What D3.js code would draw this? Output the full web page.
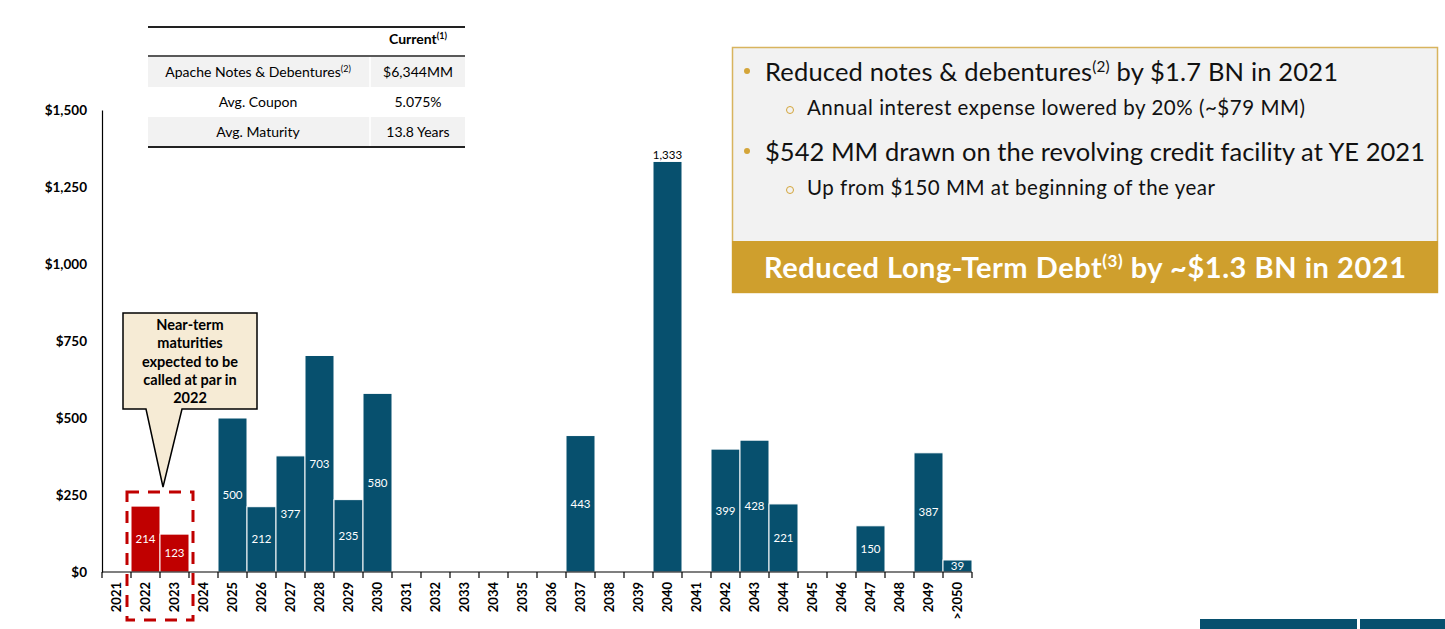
<!DOCTYPE html>
<html><head><meta charset="utf-8">
<script src="https://cdn.jsdelivr.net/npm/d3@7/dist/d3.min.js"></script>
<style>
body{margin:0;background:#fff;}
svg{display:block;font-family:Lato,"Open Sans",sans-serif;}
</style></head>
<body>
<svg id="c" width="1445" height="629"></svg>
<script>
const categories = ["2021","2022","2023","2024","2025","2026","2027","2028","2029","2030","2031","2032","2033","2034","2035","2036","2037","2038","2039","2040","2041","2042","2043","2044","2045","2046","2047","2048","2049",">2050"];
const maturities = [0,214,123,0,500,212,377,703,235,580,0,0,0,0,0,0,443,0,0,1333,0,399,428,221,0,0,150,0,387,39];
const nearTerm = ["2022","2023"];
const yTicks = [0,250,500,750,1000,1250,1500];
const tableRows = [["Apache Notes & Debentures","(2)","$6,344MM"],["Avg. Coupon","","5.075%"],["Avg. Maturity","","13.8 Years"]];
const calloutLines = ["Near-term","maturities","expected to be","called at par in","2022"];

const svg = d3.select("#c");
const teal = "#07506E", red = "#C00000";
const x = d3.scaleBand().domain(categories).range([102,972]).padding(0);
const y = d3.scaleLinear().domain([0,1500]).range([572,110]);
const data = categories.map((c,i)=>({c, v:maturities[i]}));

// bars
svg.append("g").selectAll("rect").data(data.filter(d=>d.v>0)).join("rect")
  .attr("x",d=>x(d.c)).attr("width",x.bandwidth())
  .attr("y",d=>y(d.v)).attr("height",d=>y(0)-y(d.v))
  .attr("fill",d=>nearTerm.includes(d.c)?red:teal)
  .attr("stroke","#fff").attr("stroke-width",1);

// bar labels
svg.append("g").selectAll("text").data(data.filter(d=>d.v>0)).join("text")
  .attr("x",d=>x(d.c)+x.bandwidth()/2)
  .attr("y",d=>d.v>1000 ? y(d.v)-6 : (y(d.v)+y(0))/2)
  .attr("dy","0.35em").attr("text-anchor","middle")
  .attr("font-size",11.5)
  .attr("fill",d=>d.v>1000?"#000":"#fff")
  .text(d=>d3.format(",")(d.v));

// y axis
const ya = svg.append("g").attr("transform","translate(102,0)")
  .call(d3.axisLeft(y).tickValues(yTicks).tickSize(0).tickPadding(15).tickFormat(d=>"$"+d3.format(",")(d)));
ya.select(".domain").attr("stroke","#000").attr("stroke-width",1.2);
ya.selectAll("text").attr("font-size",13.5).attr("font-weight","bold").attr("font-family","Lato,sans-serif").attr("fill","#000");

// x axis
const xa = svg.append("g").attr("transform","translate(0,572)")
  .call(d3.axisBottom(x).tickSize(0).tickPadding(0));
xa.select(".domain").attr("stroke","#000").attr("stroke-width",1.2).attr("d","M102,0H972");
xa.selectAll(".tick text").attr("font-size",13).attr("font-weight","bold").attr("font-family","Lato,sans-serif").attr("fill","#000")
  .attr("transform","rotate(-90)").attr("text-anchor","end").attr("x",-10).attr("y",0).attr("dy","0.35em");
// edge ticks
const edges = categories.map(c=>x(c)).concat([x.range()[1]]);
svg.append("g").selectAll("line").data(edges).join("line")
  .attr("x1",d=>d).attr("x2",d=>d).attr("y1",572).attr("y2",578).attr("stroke","#000").attr("stroke-width",1.2);

// dashed red box
const x0 = x(nearTerm[0]), x1 = x(nearTerm[1])+x.bandwidth();
svg.append("rect").attr("x",x0-4).attr("y",492).attr("width",x1-x0+8).attr("height",128)
  .attr("fill","none").attr("stroke",red).attr("stroke-width",3).attr("stroke-dasharray","12,9");

// callout
svg.append("path").attr("d","M123,313H257V409H182L163,487L146,409H123Z")
  .attr("fill","#F6EBD5").attr("stroke","#000").attr("stroke-width",1.5);
svg.append("g").selectAll("text").data(calloutLines).join("text")
  .attr("x",190).attr("y",(d,i)=>325+i*18.3).attr("dy","0.35em").attr("text-anchor","middle")
  .attr("font-size",14.5).attr("font-weight","bold").text(d=>d);

// table
const tg = svg.append("g");
tg.append("rect").attr("x",148).attr("y",57).attr("width",317).attr("height",30).attr("fill","#F2F2F2");
tg.append("rect").attr("x",148).attr("y",117).attr("width",317).attr("height",29).attr("fill","#F2F2F2");
tg.append("line").attr("x1",370).attr("x2",370).attr("y1",57).attr("y2",146).attr("stroke","#fff").attr("stroke-width",1.5);
tg.append("line").attr("x1",148).attr("x2",465).attr("y1",27).attr("y2",27).attr("stroke","#222").attr("stroke-width",2);
tg.append("line").attr("x1",148).attr("x2",465).attr("y1",56).attr("y2",56).attr("stroke","#222").attr("stroke-width",1.5);
tg.append("line").attr("x1",148).attr("x2",465).attr("y1",147).attr("y2",147).attr("stroke","#222").attr("stroke-width",2);
const hdr = tg.append("text").attr("x",418).attr("y",44).attr("text-anchor","middle").attr("font-size",14).attr("font-weight","bold");
hdr.append("tspan").text("Current");
hdr.append("tspan").attr("dy",-5).attr("font-size",9).text("(1)");
tableRows.forEach((r,i)=>{
  const t = tg.append("text").attr("x",258).attr("y",72+i*30).attr("dy","0.35em").attr("text-anchor","middle").attr("font-size",14);
  t.append("tspan").text(r[0]);
  if(r[1]) t.append("tspan").attr("dy",-5).attr("font-size",9).text(r[1]);
  tg.append("text").attr("x",418).attr("y",72+i*30).attr("dy","0.35em").attr("text-anchor","middle").attr("font-size",14).text(r[2]);
});

// right box
const rb = svg.append("g");
rb.append("rect").attr("x",732.5).attr("y",47.5).attr("width",705).attr("height",245).attr("fill","#F2F2F2").attr("stroke","#D8B45E").attr("stroke-width",1.5);
rb.append("rect").attr("x",732).attr("y",241).attr("width",706).attr("height",52).attr("fill","#CF9F2D");
function bullet(yy, main, sup, rest, size, xx, len){
  const t = rb.append("text").attr("x",xx).attr("y",yy).attr("dy","0.35em").attr("font-size",size).attr("fill","#111")
    .attr("textLength",len).attr("lengthAdjust","spacing");
  t.append("tspan").text(main);
  if(sup){ t.append("tspan").attr("dy",-9).attr("font-size",size*0.6).text(sup);
           t.append("tspan").attr("dy",9).text(rest); }
}
rb.append("circle").attr("cx",747).attr("cy",71).attr("r",3).attr("fill","#D4A53A");
rb.append("circle").attr("cx",747).attr("cy",151).attr("r",3).attr("fill","#D4A53A");
rb.append("circle").attr("cx",790).attr("cy",110).attr("r",3.5).attr("fill","none").attr("stroke","#D4A53A").attr("stroke-width",1);
rb.append("circle").attr("cx",790).attr("cy",190).attr("r",3.5).attr("fill","none").attr("stroke","#D4A53A").attr("stroke-width",1);
bullet(72,"Reduced notes & debentures","(2)"," by $1.7 BN in 2021",25.5,765,573);
bullet(108,"Annual interest expense lowered by 20% (~$79 MM)",null,null,20.5,807,498);
bullet(152,"$542 MM drawn on the revolving credit facility at YE 2021",null,null,25.5,765,660);
bullet(188,"Up from $150 MM at beginning of the year",null,null,20.5,807,408);
const bt = rb.append("text").attr("x",764).attr("y",268).attr("dy","0.35em").attr("font-size",29).attr("font-weight","bold").attr("fill","#fff")
  .attr("textLength",642).attr("lengthAdjust","spacing");
bt.append("tspan").text("Reduced Long-Term Debt");
bt.append("tspan").attr("dy",-11).attr("font-size",17).text("(3)");
bt.append("tspan").attr("dy",11).text(" by ~$1.3 BN in 2021");

// bottom-right decoration
svg.append("rect").attr("x",1200).attr("y",619).attr("width",157).attr("height",10).attr("fill",teal);
svg.append("rect").attr("x",1360).attr("y",619).attr("width",85).attr("height",10).attr("fill",teal);
</script>
</body></html>
